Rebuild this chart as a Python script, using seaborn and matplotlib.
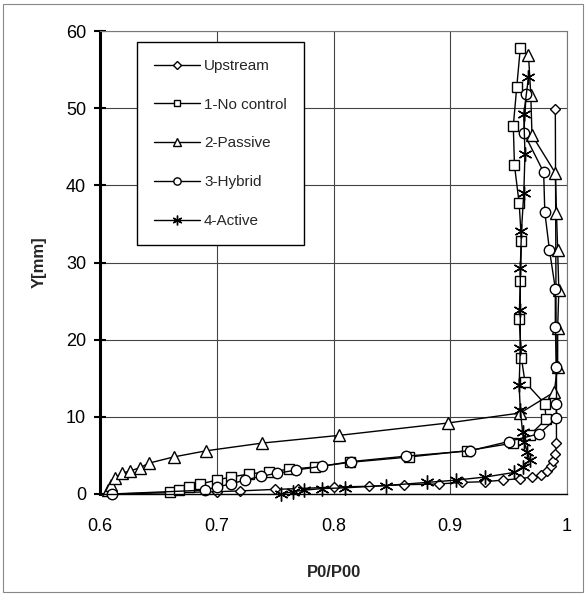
import matplotlib
matplotlib.use("Agg")
import matplotlib.pyplot as plt
import matplotlib.patches as mpatches
import seaborn as sns

sns.set_style("white")
plt.rcParams["font.family"] = ["Liberation Sans", "DejaVu Sans"]

# Total-pressure profiles P0/P00 versus wall distance Y [mm]
upstream_x = [0.610, 0.700, 0.720, 0.750, 0.770, 0.800, 0.830, 0.860, 0.890, 0.910,
              0.930, 0.945, 0.960, 0.970, 0.978, 0.983, 0.986, 0.988, 0.990, 0.991, 0.990]
upstream_y = [0.0, 0.3, 0.4, 0.6, 0.7, 0.9, 1.0, 1.2, 1.3, 1.5,
              1.6, 1.8, 2.0, 2.2, 2.5, 3.0, 3.6, 4.3, 5.2, 6.6, 49.9]

nocontrol_x = [0.660, 0.668, 0.676, 0.686, 0.700, 0.712, 0.728, 0.745, 0.762, 0.784,
               0.814, 0.865, 0.914, 0.954, 0.968, 0.982, 0.981, 0.964, 0.961, 0.959,
               0.960, 0.961, 0.959, 0.955, 0.954, 0.957, 0.960]
nocontrol_y = [0.2, 0.5, 0.9, 1.3, 1.8, 2.2, 2.6, 2.9, 3.2, 3.5,
               4.1, 4.8, 5.6, 6.6, 7.6, 9.7, 11.7, 14.5, 17.6, 22.7,
               27.6, 32.8, 37.7, 42.6, 47.7, 52.8, 57.8]

passive_x = [0.607, 0.609, 0.613, 0.619, 0.626, 0.634, 0.642, 0.663, 0.691, 0.739,
             0.805, 0.898, 0.960, 0.989, 0.992, 0.992, 0.993, 0.992, 0.991, 0.990,
             0.970, 0.969, 0.967]
passive_y = [0.5, 1.2, 2.1, 2.7, 3.0, 3.4, 4.0, 4.8, 5.6, 6.6,
             7.6, 9.2, 10.5, 13.2, 16.5, 21.5, 26.4, 31.6, 36.4, 41.6,
             46.5, 51.7, 56.9]

hybrid_x = [0.610, 0.690, 0.700, 0.712, 0.724, 0.738, 0.752, 0.768, 0.790, 0.815,
            0.862, 0.917, 0.950, 0.976, 0.991, 0.991, 0.991, 0.990, 0.990, 0.985,
            0.981, 0.980, 0.963, 0.965]
hybrid_y = [0.0, 0.5, 0.9, 1.3, 1.8, 2.3, 2.7, 3.1, 3.6, 4.2,
            4.9, 5.6, 6.8, 7.8, 9.8, 11.7, 16.5, 21.6, 26.6, 31.6,
            36.5, 41.7, 46.8, 51.8]

active_x = [0.755, 0.765, 0.775, 0.790, 0.810, 0.845, 0.880, 0.905, 0.930, 0.955,
            0.962, 0.968, 0.966, 0.963, 0.962, 0.960, 0.959, 0.960, 0.960, 0.960,
            0.961, 0.963, 0.964, 0.963, 0.967]
active_y = [0.0, 0.3, 0.5, 0.7, 0.8, 1.1, 1.5, 1.8, 2.2, 2.8,
            3.5, 4.4, 5.5, 6.8, 8.0, 10.9, 14.1, 18.9, 23.8, 29.3,
            34.1, 39.0, 44.0, 49.2, 54.0]

series_names = ["Upstream", "1-No control", "2-Passive", "3-Hybrid", "4-Active"]
series_x = [upstream_x, nocontrol_x, passive_x, hybrid_x, active_x]
series_y = [upstream_y, nocontrol_y, passive_y, hybrid_y, active_y]
series_markers = ["D", "s", "^", "o", (6, 2, 0)]
series_msize = [5.5, 7, 8, 7.5, 10]

x_ticks = [0.6, 0.7, 0.8, 0.9, 1.0]
x_tick_labels = ["0.6", "0.7", "0.8", "0.9", "1"]
y_ticks = [0, 10, 20, 30, 40, 50, 60]

fig = plt.figure(figsize=(5.86, 5.95), dpi=100)
ax = fig.add_axes([100 / 586, 1 - 494 / 595, 467 / 586, 463 / 595])

for name, xs, ys, mk, ms in zip(series_names, series_x, series_y,
                                series_markers, series_msize):
    sns.lineplot(x=xs, y=ys, sort=False, estimator=None, ax=ax,
                 color="black", linewidth=1.0, marker=mk, markersize=ms,
                 markerfacecolor="white", markeredgecolor="black",
                 markeredgewidth=1.0, label=name, clip_on=False)

ax.set_xlim(0.6, 1.0)
ax.set_ylim(0, 60)
ax.set_xticks(x_ticks)
ax.set_xticklabels(x_tick_labels)
ax.set_yticks(y_ticks)

ax.grid(True, color="#444444", linewidth=0.8)
ax.set_axisbelow(True)

ax.spines["left"].set_color("black")
ax.spines["left"].set_linewidth(2.2)
ax.spines["bottom"].set_color("black")
ax.spines["bottom"].set_linewidth(1.0)
for side in ("top", "right"):
    ax.spines[side].set_color("#777777")
    ax.spines[side].set_linewidth(0.8)
    ax.spines[side].set_linestyle((0, (1, 1)))

ax.tick_params(axis="y", which="major", direction="inout", length=8, width=1.5,
               left=True, labelsize=13, pad=6, colors="black")
ax.tick_params(axis="x", which="major", direction="inout", length=0, width=1.0,
               bottom=False, labelsize=13, pad=17, colors="black")

ax.set_xlabel("P0/P00", fontsize=12, fontweight="bold", labelpad=22)
ax.set_ylabel("Y[mm]", fontsize=12, fontweight="bold", labelpad=14)

leg = ax.legend(loc="upper left", bbox_to_anchor=(0.079, 0.976), borderaxespad=0,
                frameon=True, fancybox=False, edgecolor="black", framealpha=1,
                fontsize=11, handlelength=3.0, handletextpad=0.3,
                labelspacing=1.62, borderpad=1.1, markerscale=0.7)
leg.get_frame().set_linewidth(1.0)

# thin frame round the whole figure
fig.patches.append(mpatches.Rectangle((3 / 586, 3 / 595), 580 / 586, 588 / 595,
                                      transform=fig.transFigure, fill=False,
                                      edgecolor="#888888", linewidth=0.8))

fig.savefig("out.png", dpi=100)
